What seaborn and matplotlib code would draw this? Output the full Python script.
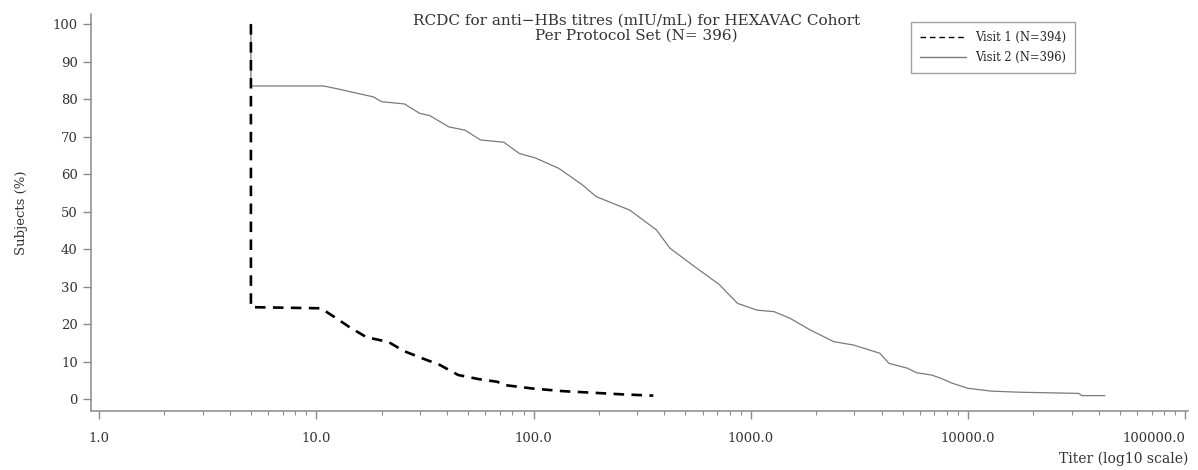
import pandas as pd
import seaborn as sns
import matplotlib.pyplot as plt
from matplotlib.ticker import FixedLocator, FixedFormatter, LogLocator, NullFormatter

# Reverse cumulative distribution
visit1_titre = [5, 5, 10.5, 12.1, 14.2, 17.0, 21.5, 25.3, 30.6, 37, 45, 56, 68, 74, 99, 136, 184, 254, 356]
visit1_pct = [100, 24.5, 24.2, 21.9, 19.2, 16.5, 15.2, 12.8, 10.9, 9.1, 6.4, 5.3, 4.6, 3.7, 2.8, 2.1, 1.7, 1.25, 0.9]

visit2_titre = [5, 5, 10.8, 12.6, 14.5, 18.3, 20.0, 25.5, 29.9, 33.3, 40.7, 48.4, 57, 73, 86, 102,
                131, 168, 194, 277, 368, 425, 564, 714, 870, 1070, 1280, 1520, 1880, 2410, 2970,
                3930, 4330, 5270, 5800, 6800, 7520, 8470, 10000, 12800, 17500, 32300, 33500, 42700]
visit2_pct = [100, 83.5, 83.5, 82.7, 81.9, 80.6, 79.3, 78.7, 76.2, 75.6, 72.6, 71.7, 69.1, 68.5, 65.5, 64.3,
              61.5, 57.1, 54.0, 50.4, 45.1, 40.2, 34.9, 30.6, 25.5, 23.7, 23.3, 21.5, 18.4, 15.3, 14.4,
              12.2, 9.5, 8.2, 7.0, 6.4, 5.5, 4.2, 2.85, 2.1, 1.8, 1.5, 0.9, 0.9]

x_ticks = [1, 10, 100, 1000, 10000, 100000]
x_tick_labels = ['1.0', '10.0', '100.0', '1000.0', '10000.0', '100000.0']
y_ticks = [0, 10, 20, 30, 40, 50, 60, 70, 80, 90, 100]

v1 = pd.DataFrame({'titre': visit1_titre, 'pct': visit1_pct})
v2 = pd.DataFrame({'titre': visit2_titre, 'pct': visit2_pct})

sns.set_style('white')
plt.rcParams['font.family'] = ['DejaVu Serif', 'DejaVu Sans']

fig, ax = plt.subplots(figsize=(11.98, 4.70), dpi=100)
fig.subplots_adjust(left=91 / 1198, right=1188 / 1198, top=1 - 14 / 470, bottom=1 - 411 / 470)

sns.lineplot(data=v2, x='titre', y='pct', color='#7a7a7a', linewidth=0.9,
             sort=False, estimator=None, label='Visit 2 (N=396)', ax=ax, zorder=2)
sns.lineplot(data=v1, x='titre', y='pct', color='black', linewidth=1.9,
             linestyle=(0, (4, 2.8)), sort=False, estimator=None,
             label='Visit 1 (N=394)', ax=ax, zorder=3)

ax.set_xscale('log')
ax.set_xlim(0.918, 103000)
ax.set_ylim(-3.2, 102.7)
ax.xaxis.set_major_locator(FixedLocator(x_ticks))
ax.xaxis.set_major_formatter(FixedFormatter(x_tick_labels))
ax.xaxis.set_minor_locator(LogLocator(base=10, subs=range(2, 10)))
ax.xaxis.set_minor_formatter(NullFormatter())
ax.set_yticks(y_ticks)

for side in ['top', 'right']:
    ax.spines[side].set_visible(False)
for side in ['left', 'bottom']:
    ax.spines[side].set_color('#8a8a8a')
    ax.spines[side].set_linewidth(1.1)

ax.tick_params(axis='both', which='major', direction='out', length=6, width=1,
               color='#8a8a8a', labelsize=9.5, labelcolor='#333333', bottom=True, left=True)
ax.tick_params(axis='x', which='minor', direction='out', length=3, width=0.8,
               color='#8a8a8a', bottom=True)
ax.tick_params(axis='x', which='major', pad=9)
ax.get_xticklabels()[-1].set_horizontalalignment('right')

ax.set_ylabel('Subjects (%)', fontsize=9.5, color='#333333', labelpad=18)
ax.set_xlabel('Titer (log10 scale)', fontsize=10, color='#333333', loc='right', labelpad=5)

ax.text(0.497, 1.0, 'RCDC for anti\u2212HBs titres (mIU/mL) for HEXAVAC Cohort\nPer Protocol Set (N= 396)',
        transform=ax.transAxes, ha='center', va='top', fontsize=11, color='#333333',
        linespacing=1.1)

handles, labels = ax.get_legend_handles_labels()
order = [labels.index('Visit 1 (N=394)'), labels.index('Visit 2 (N=396)')]
leg = ax.legend([handles[i] for i in order], [labels[i] for i in order],
                loc='upper left', bbox_to_anchor=(0.7475, 0.98), borderaxespad=0,
                fontsize=8.3, handlelength=4, frameon=True, fancybox=False,
                borderpad=0.75, labelspacing=0.65)
leg.get_frame().set_edgecolor('#8a8a8a')
leg.get_frame().set_linewidth(1.0)
for line in leg.get_lines():
    line.set_linewidth(1.0)

plt.savefig('out.png', dpi=100)
